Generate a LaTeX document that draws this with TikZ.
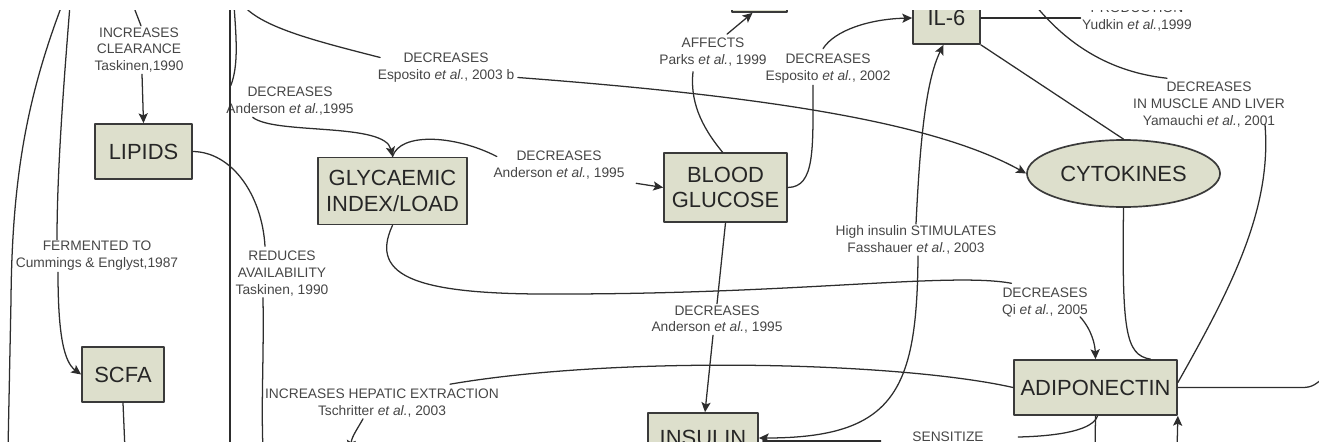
\documentclass[tikz,border=0pt]{standalone}
\usepackage{fontspec}
\setmainfont{Liberation Sans}
\usetikzlibrary{shapes.geometric,arrows.meta}
\definecolor{boxfill}{RGB}{221,223,204}
\definecolor{boxline}{RGB}{58,58,58}
\definecolor{inkline}{RGB}{45,45,45}
\definecolor{lblgray}{RGB}{70,70,70}

\begin{document}
\begin{tikzpicture}[x=0.025cm, y=-0.025cm, line cap=round, line join=round, >={Stealth[length=7pt,width=6.5pt,inset=1.5pt]}]
	\tikzset{box/.style={draw=boxline, line width=1.2pt, fill=boxfill, text=black!85, font=\fontsize{15.6}{18.4}\selectfont, align=center, inner sep=0pt},
		oval/.style={box, ellipse},
		lbl/.style={text=lblgray, font=\fontsize{9.8}{12}\selectfont, align=center, inner sep=1pt},
		link/.style={draw=inkline, line width=0.9pt}}
	\useasboundingbox (0,0) rectangle (1319,441);
	\clip (0,10) rectangle (1319,441);
	% boxes
	\node[box, minimum width=2.425cm, minimum height=1.375cm] (lipids) at (143.5,151.5) {LIPIDS};
	\node[box, minimum width=2.05cm, minimum height=1.375cm] (scfa) at (123,374.5) {SCFA};
	\node[box, minimum width=3.725cm, minimum height=1.675cm] (gi) at (392.5,191) {GLYCAEMIC\\INDEX/LOAD};
	\node[box, minimum width=3.075cm, minimum height=1.725cm] (bg) at (725.5,187.5) {BLOOD\\GLUCOSE};
	\node[box, minimum width=1.675cm, minimum height=1.3cm] (il6) at (946.5,18) {IL-6};
	\node[box, minimum width=1.375cm, minimum height=1.35cm] (topbox) at (759.5,-15) {};
	\node[oval, minimum width=4.825cm, minimum height=1.675cm] (cyto) at (1123.5,173.5) {CYTOKINES};
	\node[box, minimum width=4.075cm, minimum height=1.375cm] (adipo) at (1095.5,387.5) {ADIPONECTIN};
	\node[box, minimum width=2.75cm, minimum height=1.25cm] (insulin) at (703,438) {INSULIN};
	% labels
	\node[lbl] (l_clear) at (139,50) {INCREASES\\CLEARANCE\\Taskinen,1990};
	\node[lbl] (l_ferm) at (97,256) {FERMENTED TO\\Cummings \& Englyst,1987};
	\node[lbl] (l_dec1) at (290,101.5) {DECREASES\\Anderson \textit{et al.},1995};
	\node[lbl] (l_esp3) at (446,67.5) {DECREASES\\Esposito \textit{et al.}, 2003 b};
	\node[lbl] (l_dec2) at (559,165.5) {DECREASES\\Anderson \textit{et al.}, 1995};
	\node[lbl] (l_reduce) at (282,273.5) {REDUCES\\AVAILABILITY\\Taskinen, 1990};
	\node[lbl] (l_hep) at (382,403) {INCREASES HEPATIC EXTRACTION\\Tschritter \textit{et al.}, 2003};
	\node[lbl] (l_affects) at (713,52) {AFFECTS\\Parks \textit{et al.}, 1999};
	\node[lbl] (l_esp2) at (828,69) {DECREASES\\Esposito \textit{et al.}, 2002};
	\node[lbl] (l_and3) at (717,319.5) {DECREASES\\Anderson \textit{et al.}, 1995};
	\node[lbl] (l_high) at (916,240) {High insulin STIMULATES\\Fasshauer \textit{et al.}, 2003};
	\node[lbl] (l_qi) at (1045,302.5) {DECREASES\\Qi \textit{et al.}, 2005};
	\node[lbl] (l_musc) at (1209,104.5) {DECREASES\\IN MUSCLE AND LIVER\\Yamauchi \textit{et al.}, 2001};
	\node[lbl] (l_yud) at (1137,17) {PRODUCTION\\Yudkin \textit{et al.},1999};
	\node[lbl] (l_sens) at (948,437) {SENSITIZE};
	% loose ends at the edges
	\coordinate (e_a1) at (62,5);
	\coordinate (e_a2) at (8,450);
	\coordinate (e_b) at (70,5);
	\coordinate (e_c) at (133,5);
	\coordinate (e_scfa) at (125,450);
	\coordinate (e_sep1) at (230,5);
	\coordinate (e_sep2) at (230,450);
	\coordinate (e_dec1) at (234,5);
	\coordinate (e_esp3) at (243,5);
	\coordinate (e_red) at (263,450);
	\coordinate (e_hep) at (350,450);
	\coordinate (e_adb) at (1095,450);
	\coordinate (e_adin) at (1177,450);
	\coordinate (e_adr) at (1322,379);
	\coordinate (e_musc) at (1035,5);
	% left part
	\draw[link] (e_a1) .. controls (28,95) and (12,175) .. (11,300) -- (e_a2);
	\draw[link] (e_b) .. controls (64,80) and (57,170) .. ([shift={(-40,0)}]l_ferm.north);
	\draw[link,->] ([shift={(-39,0)}]l_ferm.south) .. controls (58,335) and (64,362) .. (scfa.west);
	\draw[link] (e_c) -- ([shift={(2,0)}]l_clear.north);
	\draw[link,->] ([shift={(3,0)}]l_clear.south) -- (lipids.north);
	\draw[link] (scfa.south) -- (e_scfa);
	\draw[link] (e_sep1) -- (e_sep2);
	\draw[link] (lipids.east) .. controls (232,152) and (262,195) .. ([shift={(-17,-3)}]l_reduce.north);
	\draw[link] ([shift={(-19,0)}]l_reduce.south) .. controls (264,360) and (261,400) .. (e_red);
	% glycaemic index
	\draw[link] (e_dec1) .. controls (236,35) and (239,65) .. ([shift={(6,0)}]l_dec1.north west);
	\draw[link,->] ([shift={(28,0)}]l_dec1.south west) .. controls (275,135) and (385,122) .. (gi.north);
	\draw[link] (gi.north) .. controls (400,132) and (455,135) .. ([shift={(5,-9)}]l_dec2.west);
	\draw[link,->] ([shift={(10,2)}]l_dec2.south east) -- (bg.west);
	\draw[link] (gi.south) .. controls (368,278) and (420,295) .. (560,294) .. controls (800,294) and (950,272) .. ([shift={(11,-3)}]l_qi.north west);
	\draw[link,->] ([shift={(35,-2)}]l_qi.south) .. controls (1092,330) and (1095,345) .. (adipo.north);
	\draw[link] (e_esp3) .. controls (262,28) and (320,42) .. ([shift={(4,-10)}]l_esp3.west);
	\draw[link,->] ([shift={(2,10)}]l_esp3.east) .. controls (750,95) and (930,120) .. (cyto.west);
	% blood glucose
	\draw[link] ([shift={(-3,0)}]bg.north) .. controls (700,125) and (690,100) .. ([shift={(-20,4)}]l_affects.south);
	\draw[link,->] ([shift={(14,-2)}]l_affects.north) -- ([shift={(-7,0)}]topbox.south);
	\draw[link] (bg.east) .. controls (815,187) and (813,150) .. ([shift={(-15,0)}]l_esp2.south);
	\draw[link,->] ([shift={(-5,-4)}]l_esp2.north) .. controls (835,30) and (870,19) .. (il6.west);
	\draw[link] (bg.south) -- (l_and3.north);
	\draw[link,->] ([shift={(-4,0)}]l_and3.south) -- ([shift={(2,0)}]insulin.north);
	% insulin
	\draw[link,->] (l_high.north) .. controls (920,140) and (926,80) .. ([shift={(-3,0)}]il6.south);
	\draw[link,->] ([shift={(2,0)}]l_high.south) .. controls (917,390) and (895,438) .. (insulin.east);
	\draw[link] ([shift={(4,3)}]insulin.east) -- ([shift={(-30,4)}]l_sens.west);
	\draw[link] (adipo.west) .. controls (900,362) and (620,355) .. ([shift={(68,-3)}]l_hep.north);
	\draw[link,->] ([shift={(-19,0)}]l_hep.south) .. controls (358,428) and (352,436) .. (e_hep);
	% adiponectin and cytokines
	\draw[link] ([shift={(2,0)}]adipo.south) .. controls (1093,430) and (1060,436) .. ([shift={(33,0)}]l_sens.east);
	\draw[link] (adipo.south) -- (e_adb);
	\draw[link,->] (e_adin) -- (adipo.south east);
	\draw[link] (adipo.east) -- ++(125,0) .. controls +(10,0) and +(-5,4) .. (e_adr);
	\draw[link] ([shift={(0,-5)}]adipo.east) .. controls (1230,290) and (1272,210) .. ([shift={(56,-4)}]l_musc.south);
	\draw[link] ([shift={(-42,-2)}]l_musc.north) .. controls (1110,72) and (1068,45) .. (e_musc);
	\draw[link] (il6.east) -- (il6.east -| l_yud.west);
	\draw[link] (il6.south east) -- (cyto.north);
	\draw[link] (cyto.south) .. controls (1122,330) and (1125,355) .. ([shift={(55,0)}]adipo.north);
\end{tikzpicture}
\end{document}
